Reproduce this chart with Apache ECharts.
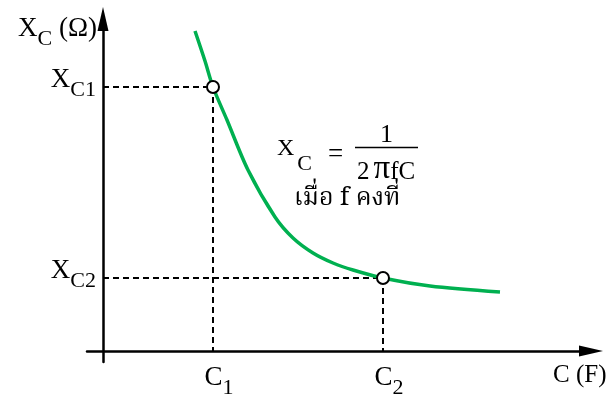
<!DOCTYPE html>
<html>
<head>
<meta charset="utf-8">
<script src="https://cdn.jsdelivr.net/npm/echarts@6/dist/echarts.min.js"></script>
<style>
  html, body { margin: 0; padding: 0; background: #fff; }
  #chart { width: 613px; height: 394px; }
</style>
</head>
<body>
<div id="chart"></div>
<script>
// Capacitive reactance X_C against capacitance C at constant frequency (arbitrary units)
const curveC  = [9.2, 10.2, 11.0, 12.4, 14.5, 17.2, 19.0, 21.0, 23.0, 25.0, 28.0, 32.7, 39.7];
const curveXc = [32.0, 29.0, 26.4, 23.1, 18.1, 13.4, 11.3, 9.8, 8.8, 8.1, 7.3, 6.5, 5.9];

// Two marked operating points
const pointC  = [11.0, 28.0];
const pointXc = [26.4, 7.3];

// Tick labels (main letter + subscript)
const xTickMain = ['C', 'C'];
const xTickSub  = ['1', '2'];
const yTickMain = ['X', 'X'];
const yTickSub  = ['C1', 'C2'];

const serif = '"Liberation Serif", "Times New Roman", serif';
const thai = '"Noto Serif Thai", "Liberation Serif", serif';
const green = '#00b050';

const richText = {
  m: { fontFamily: serif, fontSize: 27, color: '#000' },
  s: { fontFamily: serif, fontSize: 22, color: '#000', padding: [20, 0, 0, 0] },
  n: { fontFamily: serif, fontSize: 25, color: '#000' }
};

const chart = echarts.init(document.getElementById('chart'));

const curve = curveC.map((c, i) => [c, curveXc[i]]);

const guideSeries = pointC.map((c, i) => ({
  type: 'line',
  data: [[0, pointXc[i]], [c, pointXc[i]], [c, 0]],
  symbol: 'none',
  silent: true,
  z: 1,
  lineStyle: { color: '#000', width: 2, type: [6, 4] }
}));

chart.setOption({
  animation: false,
  grid: { left: 87, right: 22, top: 19, bottom: 32, outerBoundsMode: 'none', containLabel: false },
  xAxis: {
    type: 'value',
    min: -1.6,
    max: 48.8,
    splitLine: { show: false },
    axisTick: { show: false },
    axisLine: {
      onZero: true,
      symbol: ['none', 'triangle'],
      symbolSize: [11, 24],
      lineStyle: { color: '#000', width: 2.5 }
    },
    axisLabel: {
      customValues: pointC,
      margin: -5,
      padding: [0, 0, 0, 12],
      formatter: v => {
        const i = pointC.indexOf(v);
        return i < 0 ? '' : '{m|' + xTickMain[i] + '}{s|' + xTickSub[i] + '}';
      },
      rich: richText
    },
    name: '{n|C (F)}',
    nameLocation: 'end',
    nameGap: -38,
    nameTextStyle: { align: 'left', verticalAlign: 'top', padding: [12, 0, 0, 0], rich: richText }
  },
  yAxis: {
    type: 'value',
    min: -1.1,
    max: 33.2,
    splitLine: { show: false },
    axisTick: { show: false },
    axisLine: {
      onZero: true,
      symbol: ['none', 'triangle'],
      symbolSize: [11, 24],
      lineStyle: { color: '#000', width: 2.5 }
    },
    axisLabel: {
      customValues: pointXc,
      margin: -9,
      padding: [0, 0, 14, 0],
      formatter: v => {
        const i = pointXc.indexOf(v);
        return i < 0 ? '' : '{m|' + yTickMain[i] + '}{s|' + yTickSub[i] + '}';
      },
      rich: richText
    },
    name: '{m|X}{s|C}{m| (Ω)}',
    nameLocation: 'end',
    nameGap: 11,
    nameTextStyle: { align: 'right', verticalAlign: 'top', padding: [0, 6, 0, 0], rich: richText }
  },
  series: [
    ...guideSeries,
    {
      type: 'line',
      data: curve,
      smooth: 0.3,
      symbol: 'none',
      z: 2,
      lineStyle: { color: green, width: 3.5 }
    },
    {
      type: 'scatter',
      data: pointC.map((c, i) => [c, pointXc[i]]),
      symbol: 'circle',
      symbolSize: 12,
      z: 3,
      itemStyle: { color: '#fff', borderColor: '#000', borderWidth: 2, opacity: 1 }
    }
  ],
  graphic: [
    {
      type: 'text', left: 277, top: 137,
      style: { text: '{m|X}{s|C}{e|=}', rich: {
        m: { fontFamily: serif, fontSize: 24, color: '#000' },
        s: { fontFamily: serif, fontSize: 22, color: '#000', padding: [30, 0, 0, 3] },
        e: { fontFamily: serif, fontSize: 27, color: '#000', padding: [12, 0, 0, 16] }
      } }
    },
    {
      type: 'text', left: 380, top: 122,
      style: { text: '1', fontFamily: serif, fontSize: 26, fill: '#000' }
    },
    {
      type: 'line', shape: { x1: 355, y1: 147.5, x2: 418, y2: 147.5 },
      style: { stroke: '#000', lineWidth: 1.5 }
    },
    {
      type: 'text', left: 357, top: 153,
      style: { text: '{a|2}{p|π}{a|fC}', rich: {
        a: { fontFamily: serif, fontSize: 25, color: '#000' },
        p: { fontFamily: serif, fontSize: 33, color: '#000', padding: [0, 0, 5, 4] }
      } }
    },
    {
      type: 'text', left: 294, top: 188,
      style: { text: 'เมื่อ f คงที่', fontFamily: thai, fontSize: 25, fill: '#000' }
    }
  ]
});
</script>
</body>
</html>
